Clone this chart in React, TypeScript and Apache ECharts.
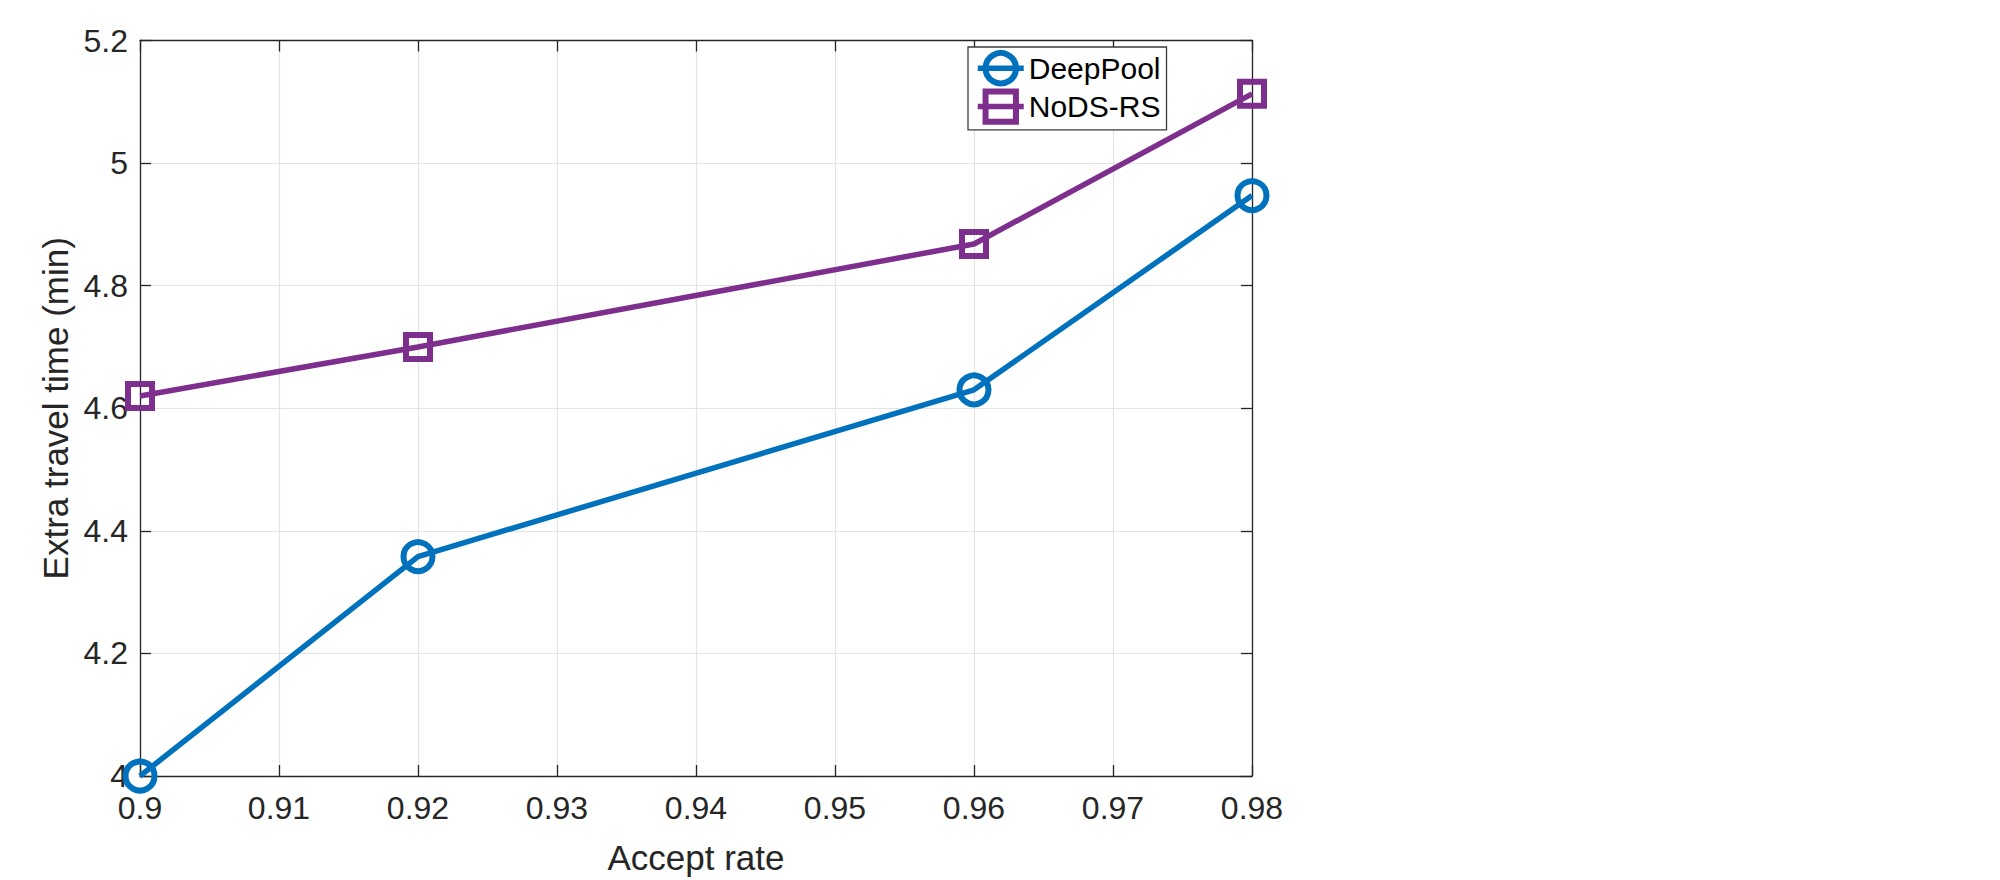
import React, { useEffect, useRef } from "react";
import * as echarts from "echarts";

// Accept-rate sweep and the resulting extra travel time (minutes)
const acceptRates = [0.9, 0.92, 0.96, 0.98];
const deepPoolTimes = [4.0, 4.358, 4.63, 4.947];
const nodsRsTimes = [4.62, 4.7, 4.868, 5.113];

const seriesNames = ["DeepPool", "NoDS-RS"];
const seriesColors = ["#0072BD", "#7E2F8E"];

const xMin = 0.9;
const xMax = 0.98;
const xStep = 0.01;
const yMin = 4;
const yMax = 5.2;
const yStep = 0.2;

const FONT = "'Liberation Sans', Arial, Helvetica, sans-serif";
const INK = "#262626";
const LINE_W = 5.5;
const MARK_W = 6;

export default function App() {
  const ref = useRef<HTMLDivElement>(null);

  useEffect(() => {
    if (!ref.current) return;
    const chart = echarts.init(ref.current, null, { renderer: "svg" });

    const tickInside = { show: true, inside: true, length: 11, lineStyle: { color: INK, width: 1.3 } };
    const axisLine = { show: true, onZero: false, lineStyle: { color: INK, width: 1.3 } };
    const gridLine = { show: true, lineStyle: { color: "#e3e3e3", width: 1.2 } };

    const pair = (xs: number[], ys: number[]) => xs.map((x, i) => [x, ys[i]]);

    chart.setOption({
      animation: false,
      backgroundColor: "#ffffff",
      textStyle: { fontFamily: FONT },
      grid: { left: 140, top: 40.5, right: 748, bottom: 102, show: false },
      legend: {
        orient: "vertical",
        left: 968,
        top: 47,
        padding: [3, 6, 5, 7],
        itemWidth: 46,
        itemHeight: 38,
        itemGap: 2,
        backgroundColor: "#ffffff",
        borderColor: "#3a3a3a",
        borderWidth: 1.3,
        borderRadius: 0,
        lineStyle: { width: LINE_W },
        itemStyle: { borderWidth: MARK_W },
        textStyle: { fontFamily: FONT, fontSize: 30, color: "#000000" },
        data: seriesNames,
      },
      xAxis: [
        {
          type: "value",
          min: xMin,
          max: xMax,
          interval: xStep,
          name: "Accept rate",
          nameLocation: "middle",
          nameGap: 64,
          nameTextStyle: { fontFamily: FONT, fontSize: 35, color: INK },
          axisLine,
          axisTick: tickInside,
          splitLine: gridLine,
          axisLabel: {
            margin: 16,
            fontFamily: FONT,
            fontSize: 32,
            color: INK,
            formatter: (v: number) => String(parseFloat(v.toFixed(2))),
          },
        },
        {
          type: "value",
          position: "top",
          min: xMin,
          max: xMax,
          interval: xStep,
          axisLine,
          axisTick: tickInside,
          axisLabel: { show: false },
          splitLine: { show: false },
        },
      ],
      yAxis: [
        {
          type: "value",
          min: yMin,
          max: yMax,
          interval: yStep,
          name: "Extra travel time (min)",
          nameLocation: "middle",
          nameGap: 62,
          nameTextStyle: { fontFamily: FONT, fontSize: 35, color: INK },
          axisLine,
          axisTick: tickInside,
          splitLine: gridLine,
          axisLabel: {
            margin: 12,
            fontFamily: FONT,
            fontSize: 32,
            color: INK,
            formatter: (v: number) => String(parseFloat(v.toFixed(1))),
          },
        },
        {
          type: "value",
          position: "right",
          min: yMin,
          max: yMax,
          interval: yStep,
          axisLine,
          axisTick: tickInside,
          axisLabel: { show: false },
          splitLine: { show: false },
        },
      ],
      series: [
        {
          name: seriesNames[0],
          type: "line",
          data: pair(acceptRates, deepPoolTimes),
          symbol: "circle",
          symbolSize: 29,
          clip: false,
          lineStyle: { color: seriesColors[0], width: LINE_W },
          itemStyle: { color: "rgba(0,0,0,0)", borderColor: seriesColors[0], borderWidth: MARK_W },
          z: 3,
        },
        {
          name: seriesNames[1],
          type: "line",
          data: pair(acceptRates, nodsRsTimes),
          symbol: "rect",
          symbolSize: 24,
          clip: false,
          lineStyle: { color: seriesColors[1], width: LINE_W },
          itemStyle: { color: "rgba(0,0,0,0)", borderColor: seriesColors[1], borderWidth: MARK_W },
          z: 3,
        },
      ],
    });

    return () => chart.dispose();
  }, []);

  return (
    <div
      ref={ref}
      style={{ position: "fixed", left: 0, top: 0, width: 2000, height: 880, background: "#fff" }}
    />
  );
}
